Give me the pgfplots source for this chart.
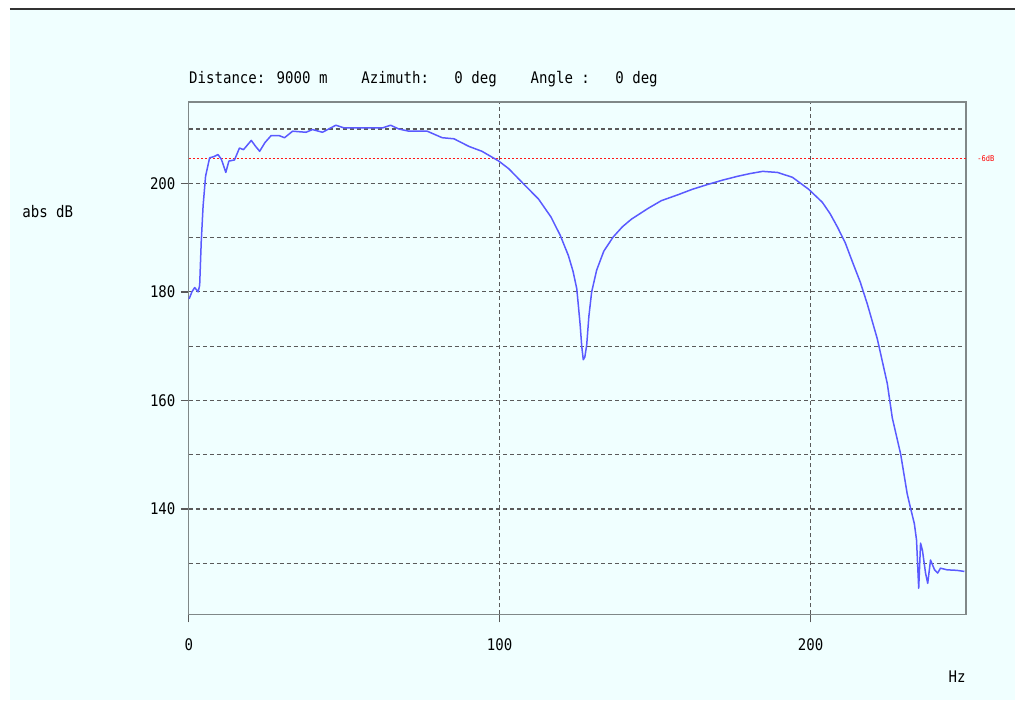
\documentclass[border=0pt]{standalone}
\usepackage{pgfplots}
\pgfplotsset{compat=1.18}
\usepackage{fontspec}
\setmainfont{DejaVu Sans Mono}[FakeStretch=0.88]
\definecolor{bgcyan}{RGB}{240,255,255}
\definecolor{curveblue}{RGB}{90,90,255}
\definecolor{gridc}{RGB}{90,90,90}
\definecolor{framec}{RGB}{128,136,136}
\begin{document}
\begin{tikzpicture}
% background (1px = 0.5pt, origin at plot's lower-left corner)
\fill[white] (-94.5pt,-44.5pt) rectangle (413.5pt,307.5pt);
\fill[bgcyan] (-89.5pt,-43pt) rectangle (413.5pt,302.5pt);
\draw[black!80,line width=1.1pt] (-89.5pt,303pt) -- (413.5pt,303pt);
\begin{axis}[
  at={(0,0)}, anchor=south west,
  scale only axis, width=389pt, height=256.5pt,
  xmin=0, xmax=250, ymin=120.6, ymax=215,
  xtick={0,100,200}, ytick={140,160,180,200},
  minor ytick={130,150,170,190,210},
  minor tick length=0pt,
  major tick length=4pt,
  tick align=outside,
  xtick pos=bottom, ytick pos=left,
  xmajorgrids, ymajorgrids, yminorgrids,
  grid style={gridc, line width=0.6pt, dash pattern=on 2pt off 1.5pt},
  minor grid style={gridc, line width=0.6pt, dash pattern=on 2pt off 1.5pt},
  axis line style={framec, line width=0.7pt},
  major tick style={black!65, line width=0.7pt},
  /pgf/number format/assume math mode=true,
  tick label style={font=\fontsize{8}{9}\selectfont},
  xticklabel style={anchor=base, inner sep=0pt, yshift=-14pt},
  yticklabel style={anchor=east, inner sep=0pt, xshift=-2.5pt},
  title={Distance: 9000 m\ \ \ \ Azimuth:\ \ \ 0 deg\ \ \ \ Angle :\ \ \ 0 deg},
  title style={at={(rel axis cs:0,1)}, anchor=base west, inner sep=0pt, yshift=3pt, font=\fontsize{8}{9}\selectfont},
  xlabel={Hz}, ylabel={abs dB},
  every axis x label/.style={at={(rel axis cs:1,-0.1326)}, anchor=base east, inner sep=0pt, font=\fontsize{8}{9}\selectfont},
  every axis y label/.style={at={(rel axis cs:-0.2147,0.7739)}, anchor=base west, inner sep=0pt, font=\fontsize{8}{9}\selectfont},
  clip=false,
]
\addplot[red!90, line width=0.5pt, dash pattern=on 1pt off 1pt] coordinates {(0,204.5) (250,204.5)};
\node[red, anchor=west, inner sep=0pt, font=\fontsize{4}{5}\selectfont] at (axis cs:250,204.5) [xshift=5.5pt] {-6dB};
\addplot[curveblue, line width=0.75pt, line join=round] coordinates {
(0.1,178.7) (1.0,180.0) (1.9,180.8) (3.0,180.0) (3.5,181.2) (4.0,189.2) (4.6,195.8)
(5.4,201.3) (6.7,204.7) (8.0,204.9) (9.4,205.3) (10.5,204.4) (11.9,202.0) (12.9,204.1)
(14.7,204.3) (16.3,206.5) (17.6,206.2) (20.1,207.9) (21.5,206.8) (22.8,205.9) (24.5,207.5)
(26.5,208.8) (29.0,208.8) (30.8,208.4) (33.4,209.6) (37.7,209.4) (39.8,209.9) (43.0,209.4)
(47.3,210.7) (50.0,210.2) (56.0,210.2) (62.3,210.2) (64.9,210.7) (67.6,210.0) (70.8,209.6)
(76.7,209.6) (81.5,208.4) (85.3,208.2) (90.1,206.8) (94.3,205.9) (99.7,204.1) (102.9,202.7)
(107.5,200.0) (112.5,197.1) (116.5,193.8) (119.5,190.4) (122.1,186.7) (123.6,183.8) (124.8,180.6)
(125.4,177.0) (125.9,173.9) (126.4,170.0) (126.9,167.5) (127.4,168.0) (128.0,170.2) (128.7,175.5) (129.6,180.0) (131.2,184.0) (133.5,187.5)
(136.5,190.1) (139.5,192.0) (142.4,193.4) (147.8,195.4) (152.0,196.8) (157.4,197.9) (162.0,198.9) (167.0,199.8)
(171.8,200.6) (176.6,201.3) (180.6,201.8) (184.6,202.2) (189.4,202.0) (194.2,201.1) (199.4,198.9) (203.8,196.5)
(206.3,194.4) (208.7,191.9) (211.2,189.0) (213.5,185.5) (216.0,181.8) (218.3,177.7) (221.5,171.3) (224.7,163.1) (226.3,156.8)
(229.0,150.1) (231.1,142.8) (232.2,140.1) (233.4,137.3) (234.1,134.3) (234.8,125.4)
(235.4,133.7) (236.0,132.4) (237.0,128.2) (237.7,126.3) (238.6,130.6) (239.9,128.8)
(240.9,128.2) (241.8,129.1) (243.9,128.8) (247.1,128.7) (249.5,128.5)
};
\end{axis}
\end{tikzpicture}
\end{document}
